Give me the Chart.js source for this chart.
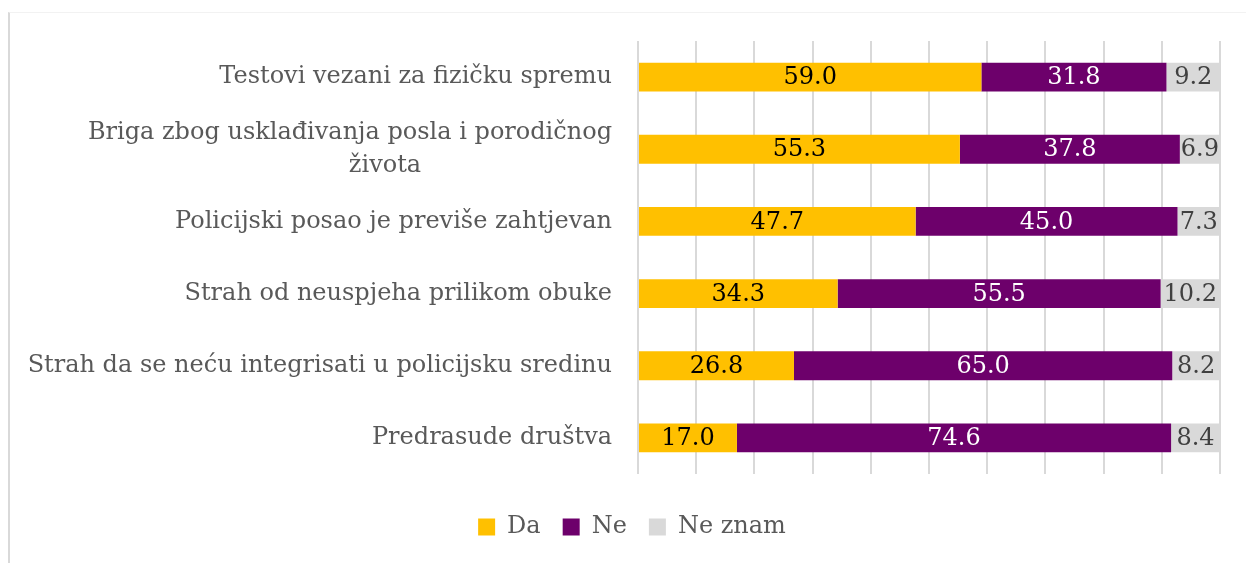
<!DOCTYPE html>
<html>
<head>
<meta charset="utf-8">
<script src="https://cdn.jsdelivr.net/npm/chart.js@4"></script>
<style>
    html, body { margin: 0; padding: 0; background: #ffffff; }
    #okvir {
        position: relative;
        width: 1246px;
        height: 563px;
        overflow: hidden;
    }
    #ivica {
        position: absolute;
        left: 8px;
        top: 12px;
        width: 1300px;
        height: 600px;
        border-left: 2px solid #d9d9d9;
        border-top: 1px solid #f2f2f2;
    }
    canvas { position: absolute; left: 0; top: 0; }
</style>
</head>
<body>
<div id="okvir">
    <div id="ivica"></div>
    <canvas id="razloziChart" width="1246" height="563"></canvas>
</div>
<script>
// Kategorije (drugi red se prelama u dva reda)
const kategorije = [
    ['Testovi vezani za fizičku spremu'],
    ['Briga zbog usklađivanja posla i porodičnog', 'života'],
    ['Policijski posao je previše zahtjevan'],
    ['Strah od neuspjeha prilikom obuke'],
    ['Strah da se neću integrisati u policijsku sredinu'],
    ['Predrasude društva']
];
const da = [59.0, 55.3, 47.7, 34.3, 26.8, 17.0];
const ne = [31.8, 37.8, 45.0, 55.5, 65.0, 74.6];
const neZnam = [9.2, 6.9, 7.3, 10.2, 8.2, 8.4];

const FONT = '"DejaVu Serif", "Liberation Serif", serif';
const VELICINA = 24;

// Nazivi kategorija lijevo od stubića
const naziviPlugin = {
    id: 'nazivi',
    afterDraw(chart) {
        const ctx = chart.ctx;
        const yScale = chart.scales.y;
        const xDesno = chart.chartArea.left - 26;
        const visinaReda = 33;
        ctx.save();
        ctx.font = VELICINA + 'px ' + FONT;
        ctx.fillStyle = '#595959';
        ctx.textBaseline = 'middle';
        kategorije.forEach((linije, i) => {
            const yc = yScale.getPixelForValue(i);
            const y0 = yc - (linije.length - 1) * visinaReda / 2;
            const sirinaPrve = ctx.measureText(linije[0]).width;
            const centarPrve = xDesno - sirinaPrve / 2;
            linije.forEach((tekst, j) => {
                if (j === 0) {
                    ctx.textAlign = 'right';
                    ctx.fillText(tekst, xDesno, y0);
                } else {
                    ctx.textAlign = 'center';
                    ctx.fillText(tekst, centarPrve + 35, y0 + j * visinaReda);
                }
            });
        });
        ctx.restore();
    }
};

// Vrijednosti upisane u sredinu svakog segmenta
const vrijednostiPlugin = {
    id: 'vrijednosti',
    afterDatasetsDraw(chart) {
        const ctx = chart.ctx;
        ctx.save();
        ctx.font = VELICINA + 'px ' + FONT;
        ctx.textAlign = 'center';
        ctx.textBaseline = 'middle';
        chart.data.datasets.forEach((ds, di) => {
            const meta = chart.getDatasetMeta(di);
            meta.data.forEach((bar, i) => {
                const sredina = (bar.x + bar.base) / 2;
                ctx.fillStyle = ds.bojaTeksta;
                ctx.fillText(ds.data[i].toFixed(1), sredina, bar.y + 1);
            });
        });
        ctx.restore();
    }
};

function crtajGrafikon() {
    const ctx = document.getElementById('razloziChart').getContext('2d');
    new Chart(ctx, {
        type: 'bar',
        data: {
            labels: kategorije.map(l => l.join(' ')),
            datasets: [
                { label: 'Da', data: da, backgroundColor: '#ffc000', bojaTeksta: '#000000' },
                { label: 'Ne', data: ne, backgroundColor: '#6d006b', bojaTeksta: '#ffffff' },
                { label: 'Ne znam', data: neZnam, backgroundColor: '#d9d9d9', bojaTeksta: '#404040' }
            ]
        },
        options: {
            indexAxis: 'y',
            responsive: false,
            animation: false,
            maintainAspectRatio: false,
            categoryPercentage: 1,
            barPercentage: 0.4,
            layout: {
                padding: { left: 18, right: 0, top: 41, bottom: 14 }
            },
            plugins: {
                tooltip: { enabled: false },
                legend: {
                    position: 'bottom',
                    labels: {
                        boxWidth: 17,
                        boxHeight: 17,
                        padding: 22,
                        color: '#595959',
                        font: { family: FONT, size: VELICINA }
                    }
                }
            },
            scales: {
                x: {
                    stacked: true,
                    min: 0,
                    max: 100,
                    ticks: { display: false, stepSize: 10 },
                    grid: { color: '#d9d9d9', lineWidth: 2, drawTicks: false },
                    border: { display: false },
                    afterFit(scale) { scale.height = 19; }
                },
                y: {
                    stacked: true,
                    ticks: { display: false },
                    grid: { display: false },
                    border: { display: false },
                    afterFit(scale) { scale.width = 620; }
                },
                desno: {
                    type: 'category',
                    position: 'right',
                    ticks: { display: false },
                    grid: { display: false },
                    border: { display: false },
                    afterFit(scale) { scale.width = 26; }
                }
            }
        },
        plugins: [naziviPlugin, vrijednostiPlugin]
    });
}

document.addEventListener('DOMContentLoaded', crtajGrafikon);
</script>
</body>
</html>
